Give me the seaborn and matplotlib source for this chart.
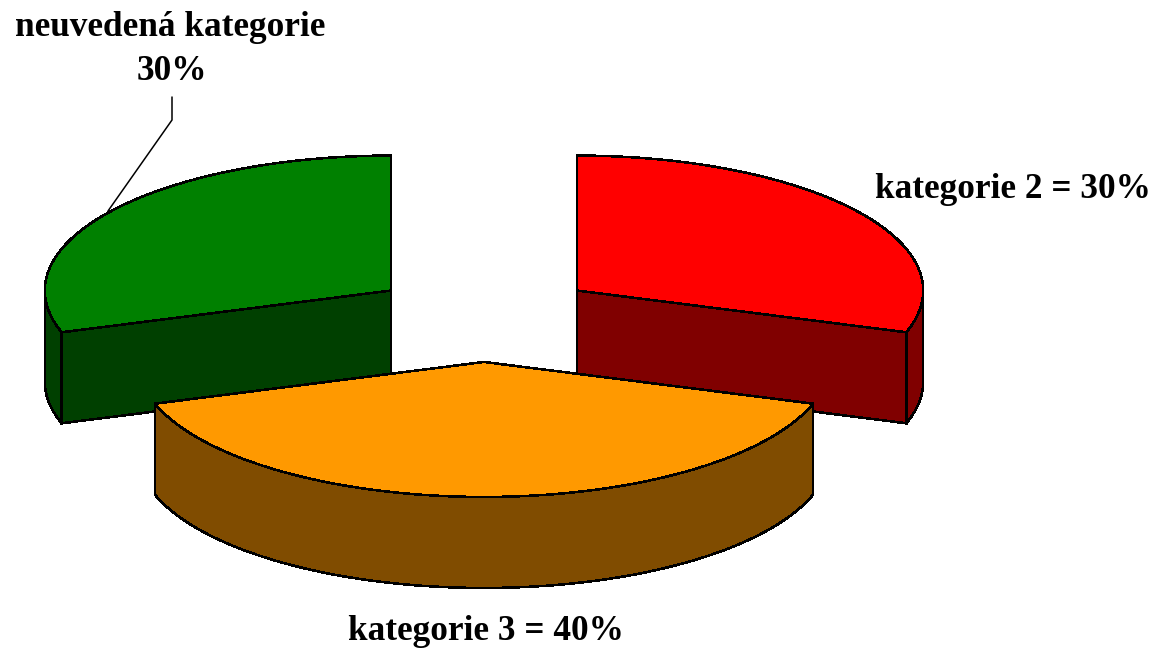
import numpy as np
import matplotlib
matplotlib.use("Agg")
import matplotlib.pyplot as plt
import seaborn as sns

# hodnoty grafu
categories = ["neuvedená kategorie", "kategorie 2", "kategorie 3"]
values = [30, 30, 40]
top_colors = ["#008000", "#ff0000", "#ff9900"]
side_colors = ["#004000", "#800000", "#804c00"]

sns.set_theme(style="white")
plt.rcParams['font.family'] = ['Liberation Serif', 'DejaVu Serif']

# geometrie pie (v pixelech obrazku)
cx, cy = 484, 317
rx, ry = 346, 135
depth = 91
explode = 0.333

fig, ax = plt.subplots(figsize=(11.57, 6.48), dpi=100)
fig.subplots_adjust(0, 0, 1, 1)
ax.set_xlim(0, 1157)
ax.set_ylim(648, 0)
ax.axis("off")


def arc(a0, a1, ox, oy, dy=0):
    t = np.radians(np.linspace(a0, a1, 120))
    return np.column_stack([ox + rx * np.cos(t), oy - ry * np.sin(t) + dy])


def poly(points, color, z):
    ax.fill(points[:, 0], points[:, 1], facecolor=color, edgecolor="black",
            linewidth=1.1, antialiased=False, zorder=z)


# uhly rezu: zelena od 90 nahoru, cervena od 90 dolu, oranzova zbytek
fracs = np.array(values) / sum(values) * 360
slices = [(90, 90 + fracs[0]), (90 - fracs[1], 90), (90 + fracs[0], 90 + fracs[0] + fracs[2])]

for i, (a0, a1) in enumerate(slices):
    mid = np.radians((a0 + a1) / 2)
    ox = cx + explode * rx * np.cos(mid)
    oy = cy - explode * ry * np.sin(mid)
    z = 3 if i == 2 else 1
    apex = np.array([[ox, oy]])
    apex_low = np.array([[ox, oy + depth]])

    # bocni steny
    if i == 2:
        wall = arc(a0, a1, ox, oy)
        poly(np.vstack([wall, arc(a1, a0, ox, oy, depth)]), side_colors[i], z)
    else:
        # radialni stena a vnejsi stena
        end = a0 if i == 1 else a1
        p = arc(end, end, ox, oy)[:1]
        p_low = arc(end, end, ox, oy, depth)[:1]
        edge = 0 if i == 1 else 180
        wall = arc(end, edge, ox, oy)
        poly(np.vstack([wall, arc(edge, end, ox, oy, depth)]), side_colors[i], z)
        poly(np.vstack([apex, p, p_low, apex_low]), side_colors[i], z)

    # horni plocha
    poly(np.vstack([apex, arc(a0, a1, ox, oy)]), top_colors[i], z + 1)

# popisky
font = dict(fontsize=25.4, fontweight="bold", color="black", ha="center", va="center")
ax.text(170, 27, categories[0], **font)
ax.text(172, 72, f"{values[0]}%", **font)
ax.text(1013, 189, f"{categories[1]} = {values[1]}%", **font)
ax.text(486, 631, f"{categories[2]} = {values[2]}%", **font)

# vodici cara
ax.plot([172, 172, 108], [97, 120, 211], color="black", linewidth=1.1, zorder=5)

plt.savefig("out.png", dpi=100, facecolor="white")
